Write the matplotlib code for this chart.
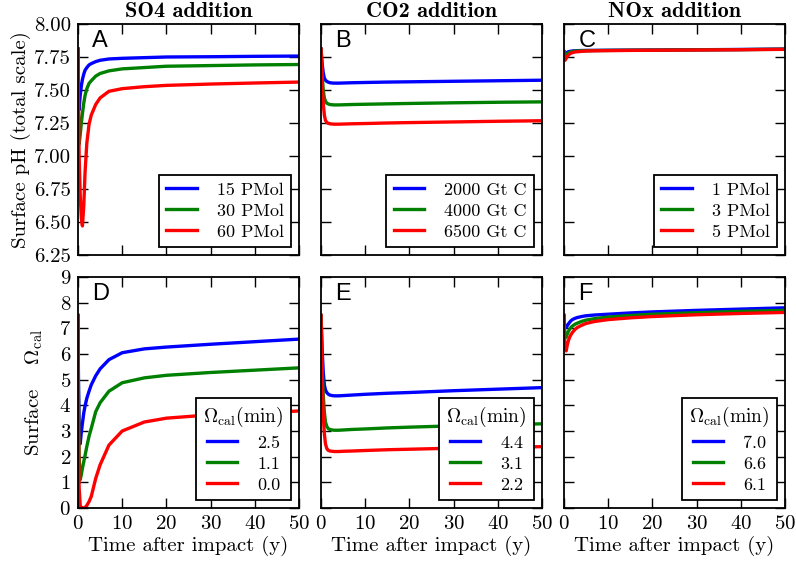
import matplotlib
matplotlib.use("Agg")
import matplotlib.pyplot as plt
from matplotlib.ticker import FormatStrFormatter, MultipleLocator

plt.rcParams['font.family'] = ['cmr10', 'DejaVu Serif']
plt.rcParams['mathtext.fontset'] = 'cm'
plt.rcParams['axes.formatter.use_mathtext'] = True

# ---------------- data ----------------
t = [0, 0.1, 0.25, 0.5, 0.75, 1.0, 1.3, 1.6, 2.0, 2.5, 3.0, 4.0, 5.0, 7.0, 10, 15, 20, 30, 40, 50]

# Panel A: SO4 addition, surface pH
ph_so4_15 = [7.81, 7.50, 7.35, 7.46, 7.53, 7.58, 7.62, 7.65, 7.67, 7.69, 7.70, 7.715, 7.725, 7.735, 7.74, 7.745, 7.75, 7.752, 7.755, 7.757]
ph_so4_30 = [7.81, 7.35, 7.09, 7.16, 7.25, 7.32, 7.40, 7.46, 7.51, 7.55, 7.57, 7.605, 7.625, 7.645, 7.66, 7.67, 7.68, 7.685, 7.69, 7.693]
ph_so4_60 = [7.81, 7.45, 7.00, 6.70, 6.53, 6.47, 6.62, 6.88, 7.10, 7.24, 7.31, 7.39, 7.44, 7.49, 7.51, 7.525, 7.535, 7.545, 7.553, 7.56]

# Panel B: CO2 addition, surface pH
ph_co2_2000 = [7.81, 7.77, 7.70, 7.63, 7.59, 7.575, 7.565, 7.56, 7.555, 7.553, 7.552, 7.552, 7.553, 7.555, 7.557, 7.56, 7.562, 7.566, 7.57, 7.574]
ph_co2_4000 = [7.81, 7.74, 7.62, 7.50, 7.44, 7.415, 7.40, 7.395, 7.39, 7.388, 7.387, 7.387, 7.388, 7.39, 7.392, 7.395, 7.398, 7.403, 7.407, 7.41]
ph_co2_6500 = [7.81, 7.70, 7.55, 7.40, 7.31, 7.27, 7.255, 7.248, 7.244, 7.242, 7.241, 7.241, 7.242, 7.244, 7.246, 7.25, 7.253, 7.258, 7.263, 7.267]

# Panel C: NOx addition, surface pH
ph_nox_1 = [7.79, 7.78, 7.775, 7.78, 7.785, 7.79, 7.792, 7.794, 7.796, 7.797, 7.798, 7.799, 7.80, 7.80, 7.801, 7.802, 7.803, 7.805, 7.807, 7.81]
ph_nox_3 = [7.79, 7.77, 7.755, 7.765, 7.775, 7.78, 7.785, 7.789, 7.792, 7.794, 7.796, 7.797, 7.798, 7.799, 7.80, 7.801, 7.802, 7.804, 7.806, 7.809]
ph_nox_5 = [7.79, 7.755, 7.725, 7.74, 7.755, 7.765, 7.773, 7.779, 7.784, 7.788, 7.79, 7.793, 7.795, 7.797, 7.798, 7.80, 7.801, 7.803, 7.805, 7.808]

# Panel D: SO4 addition, surface Omega_cal
om_so4_15 = [7.5, 5.0, 3.2, 2.5, 2.95, 3.3, 3.7, 3.98, 4.28, 4.55, 4.8, 5.15, 5.42, 5.78, 6.05, 6.2, 6.27, 6.38, 6.48, 6.58]
om_so4_30 = [7.5, 4.5, 2.0, 1.1, 1.3, 1.55, 1.8, 2.05, 2.4, 2.8, 3.1, 3.75, 4.1, 4.55, 4.88, 5.07, 5.17, 5.28, 5.37, 5.46]
om_so4_60 = [7.5, 3.5, 0.8, 0.1, 0.0, 0.0, 0.0, 0.02, 0.1, 0.25, 0.45, 1.15, 1.68, 2.45, 3.0, 3.35, 3.5, 3.63, 3.7, 3.78]

# Panel E: CO2 addition, surface Omega_cal
om_co2_2000 = [7.5, 7.0, 6.2, 5.3, 4.8, 4.6, 4.5, 4.44, 4.4, 4.38, 4.37, 4.37, 4.38, 4.4, 4.43, 4.47, 4.5, 4.57, 4.63, 4.69]
om_co2_4000 = [7.5, 6.7, 5.6, 4.4, 3.75, 3.35, 3.18, 3.1, 3.06, 3.04, 3.03, 3.03, 3.04, 3.06, 3.08, 3.12, 3.15, 3.2, 3.24, 3.28]
om_co2_6500 = [7.5, 6.5, 5.1, 3.6, 2.9, 2.5, 2.32, 2.25, 2.22, 2.21, 2.2, 2.2, 2.21, 2.22, 2.24, 2.27, 2.29, 2.33, 2.36, 2.39]

# Panel F: NOx addition, surface Omega_cal
om_nox_1 = [7.5, 7.2, 7.05, 7.03, 7.1, 7.17, 7.24, 7.3, 7.35, 7.39, 7.42, 7.46, 7.49, 7.52, 7.55, 7.6, 7.64, 7.7, 7.75, 7.8]
om_nox_3 = [7.5, 7.0, 6.75, 6.65, 6.78, 6.88, 6.97, 7.04, 7.1, 7.16, 7.2, 7.27, 7.32, 7.38, 7.44, 7.5, 7.55, 7.61, 7.66, 7.7]
om_nox_5 = [7.5, 6.7, 6.25, 6.12, 6.35, 6.52, 6.66, 6.76, 6.86, 6.96, 7.03, 7.12, 7.19, 7.27, 7.34, 7.41, 7.46, 7.53, 7.58, 7.62]

titles = ["SO4 addition", "CO2 addition", "NOx addition"]
letters = ["A", "B", "C", "D", "E", "F"]
labels_so4 = ["15 PMol", "30 PMol", "60 PMol"]
labels_co2 = ["2000 Gt C", "4000 Gt C", "6500 Gt C"]
labels_nox = ["1 PMol", "3 PMol", "5 PMol"]
labels_om_so4 = ["2.5", "1.1", "0.0"]
labels_om_co2 = ["4.4", "3.1", "2.2"]
labels_om_nox = ["7.0", "6.6", "6.1"]

colors = ["#0000ff", "#008000", "#ff0000"]

panels = [
    ([ph_so4_15, ph_so4_30, ph_so4_60], labels_so4, None),
    ([ph_co2_2000, ph_co2_4000, ph_co2_6500], labels_co2, None),
    ([ph_nox_1, ph_nox_3, ph_nox_5], labels_nox, None),
    ([om_so4_15, om_so4_30, om_so4_60], labels_om_so4, r"$\Omega_{\rm cal}$(min)"),
    ([om_co2_2000, om_co2_4000, om_co2_6500], labels_om_co2, r"$\Omega_{\rm cal}$(min)"),
    ([om_nox_1, om_nox_3, om_nox_5], labels_om_nox, r"$\Omega_{\rm cal}$(min)"),
]

# ---------------- figure ----------------
fig = plt.figure(figsize=(7.96, 5.62), dpi=100)
lefts = [0.0980, 0.4033, 0.7085]
w = 0.2776
h = 0.4110
bottoms = [0.5463, 0.0961]

for i, (series, labels, ltitle) in enumerate(panels):
    row, col = divmod(i, 3)
    ax = fig.add_axes([lefts[col], bottoms[row], w, h])
    for s, lab, c in zip(series, labels, colors):
        ax.plot(t, s, color=c, lw=2.4, label=lab)
    ax.set_xlim(0, 50)
    ax.xaxis.set_major_locator(MultipleLocator(10))
    if row == 0:
        ax.set_ylim(6.25, 8.0)
        ax.yaxis.set_major_locator(MultipleLocator(0.25))
        ax.yaxis.set_major_formatter(FormatStrFormatter('%.2f'))
        ax.set_title(titles[col], fontsize=16, family='cmb10', pad=5)
        ax.set_xticklabels([])
    else:
        ax.set_ylim(0, 9)
        ax.yaxis.set_major_locator(MultipleLocator(1))
        ax.set_xlabel("Time after impact (y)", fontsize=15, labelpad=2)
    if col != 0:
        ax.set_yticklabels([])
    ax.tick_params(direction='in', top=True, right=True, length=7, width=1,
                   labelsize=15, pad=5)
    for sp in ax.spines.values():
        sp.set_linewidth(1.3)
    ax.text(0.065, 0.975, letters[i], transform=ax.transAxes, ha='left', va='top',
            fontsize=17, family='Liberation Sans')
    leg = ax.legend(loc='lower right', fontsize=13, title=ltitle, title_fontsize=14,
                    fancybox=False, framealpha=1, edgecolor='black',
                    handlelength=1.7, handletextpad=1.1, borderaxespad=0.45,
                    borderpad=0.4, labelspacing=0.3)
    leg.get_frame().set_linewidth(1.3)
    if i == 0:
        ax.set_ylabel("Surface pH (total scale)", fontsize=15, labelpad=2)
    if i == 3:
        ax.set_ylabel(r"Surface $\quad\Omega_{\rm cal}$", fontsize=15, labelpad=10)

fig.savefig("out.png", dpi=100)
